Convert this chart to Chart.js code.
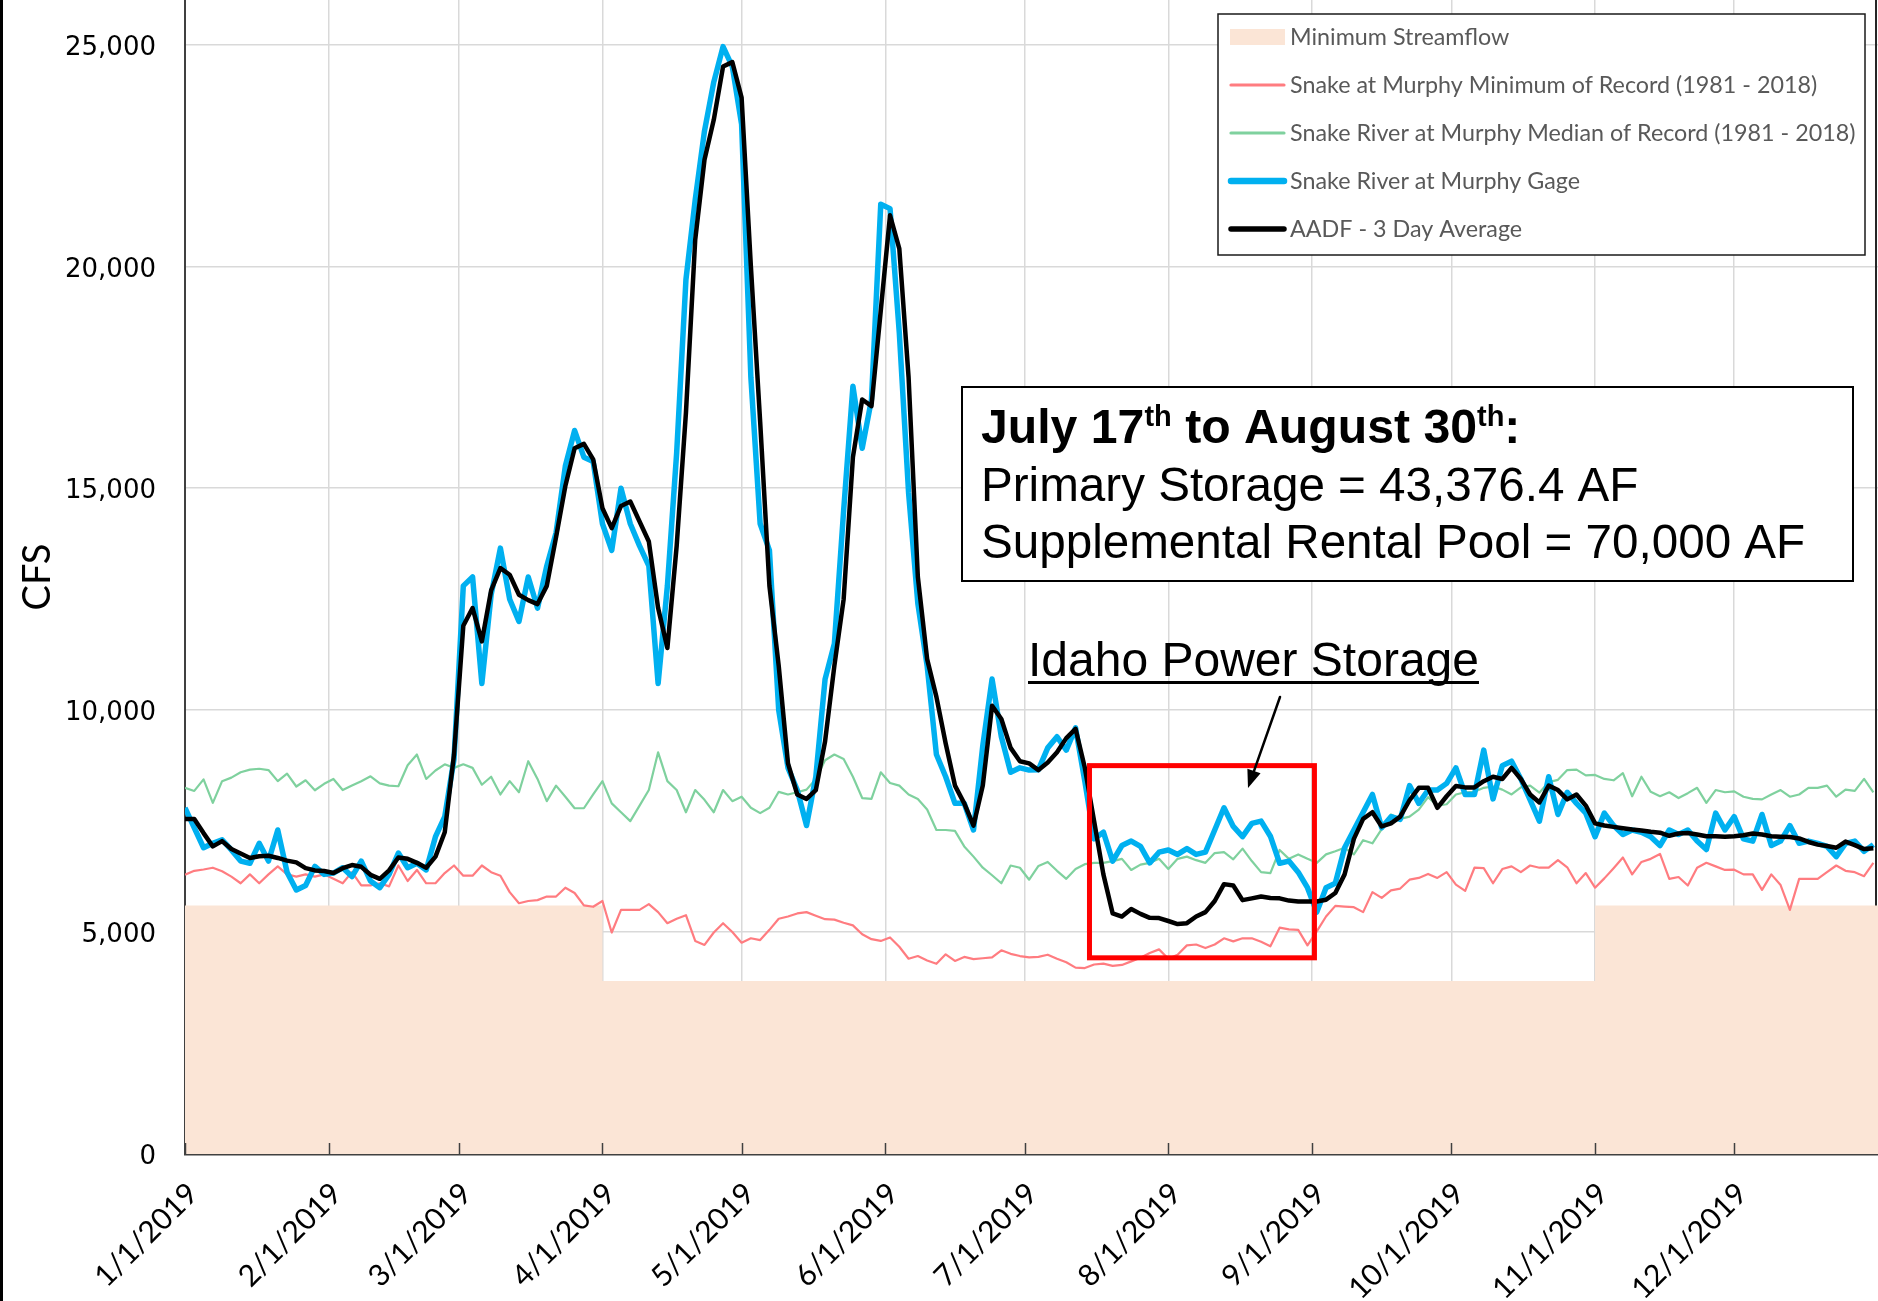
<!DOCTYPE html>
<html>
<head>
    <title>Snake River at Murphy - 2019</title>
    <script src="https://cdn.jsdelivr.net/npm/chart.js"></script>
    <style>
        body { margin: 0; background: #ffffff; }
    </style>
</head>
<body>
    <canvas id="flowChart" width="1878" height="1301"></canvas>

    <script>
        // x axis: days since 1/1/2019, daily series read every 2 days
        const STEP_DAYS = 2;
        const MONTH_START_DAYS = [0, 31, 59, 90, 120, 151, 181, 212, 243, 273, 304, 334];
        const MONTH_LABELS = ['1/1/2019', '2/1/2019', '3/1/2019', '4/1/2019', '5/1/2019', '6/1/2019',
            '7/1/2019', '8/1/2019', '9/1/2019', '10/1/2019', '11/1/2019', '12/1/2019'];
        const Y_TICKS = [0, 5000, 10000, 15000, 20000, 25000];

        // Minimum streamflow (step)
        const minStreamflowDays = [0, 90, 304, 365];
        const minStreamflowCfs = [5600, 3900, 5600, 5600];

        const minOfRecord = [
            6290, 6380, 6410, 6450, 6370, 6250, 6100, 6300, 6100, 6300,
            6480, 6300, 6250, 6300, 6250, 6300, 6200, 6100, 6350, 6050,
            6050, 6100, 6030, 6500, 6150, 6400, 6100, 6100, 6330, 6500,
            6270, 6270, 6500, 6350, 6270, 5900, 5650, 5700, 5720, 5800,
            5800, 6000, 5880, 5600, 5570, 5700, 4990, 5500, 5500, 5500,
            5630, 5450, 5200, 5300, 5380, 4800, 4710, 4990, 5200, 5000,
            4760, 4860, 4820, 5050, 5300, 5350, 5420, 5450, 5370, 5290,
            5280, 5210, 5150, 4950, 4840, 4800, 4880, 4670, 4400, 4460,
            4360, 4285, 4500, 4350, 4440, 4390, 4410, 4430, 4590, 4510,
            4460, 4430, 4440, 4490, 4400, 4320, 4200, 4190, 4270, 4290,
            4240, 4260, 4340, 4420, 4530, 4610, 4400, 4490, 4700, 4720,
            4640, 4720, 4860, 4790, 4860, 4860, 4780, 4680, 5100, 5060,
            5050, 4700, 5015, 5350, 5590, 5575, 5560, 5450, 5900, 5770,
            5940, 5980, 6180, 6220, 6310, 6220, 6350, 6070, 5930, 6450,
            6440, 6100, 6420, 6480, 6350, 6500, 6450, 6450, 6620, 6460,
            6100, 6330, 6000, 6210, 6440, 6680, 6300, 6580, 6650, 6760,
            6200, 6240, 6050, 6450, 6560, 6480, 6400, 6405, 6300, 6300,
            5950, 6300, 6060, 5500, 6200, 6200, 6200, 6350, 6500, 6380,
            6350, 6260, 6560
        ];

        const medianOfRecord = [
            8250, 8180, 8440, 7910, 8400, 8480, 8600, 8660, 8680, 8650,
            8400, 8570, 8280, 8420, 8195, 8340, 8450, 8200, 8300, 8400,
            8510, 8350, 8300, 8285, 8760, 9000, 8450, 8640, 8780, 8700,
            8780, 8700, 8320, 8500, 8100, 8400, 8150, 8850, 8450, 7950,
            8300, 8050, 7790, 7790, 8100, 8400, 7900, 7700, 7500, 7850,
            8200, 9050, 8400, 8200, 7700, 8200, 7980, 7700, 8200, 7950,
            8050, 7800, 7680, 7800, 8160, 8100, 8150, 8210, 8450, 8870,
            9000, 8900, 8500, 8020, 8000, 8600, 8360, 8300, 8100, 8000,
            7760, 7300, 7300, 7280, 6930, 6700, 6450, 6280, 6100, 6500,
            6450, 6180, 6490, 6580, 6380, 6200, 6420, 6530, 6560, 6560,
            6600, 6650, 6400, 6520, 6560, 6650, 6420, 6650, 6700, 6620,
            6560, 6780, 6800, 6640, 6880, 6600, 6350, 6330, 6850, 6650,
            6750, 6650, 6560, 6750, 6820, 6900, 6750, 7070, 7000, 7320,
            7650, 7550, 7600, 7760, 8040, 7850, 7880, 8100, 8150, 8160,
            8250, 8280, 8210, 8100, 8260, 8300, 8140, 8380, 8430, 8650,
            8660, 8530, 8540, 8450, 8420, 8580, 8060, 8500, 8160, 8060,
            8150, 8020, 8130, 8250, 7910, 8200, 8150, 8170, 8050, 8000,
            7990, 8100, 8200, 8050, 8100, 8250, 8250, 8300, 8050, 8210,
            8180, 8450, 8150
        ];

        const murphyGage = [
            7800, 7350, 6900, 7000, 7080, 6850, 6600, 6550, 7000, 6600,
            7300, 6350, 5950, 6050, 6480, 6300, 6330, 6450, 6250, 6600,
            6150, 6000, 6300, 6780, 6450, 6550, 6400, 7150, 7600, 8900,
            12800, 13000, 10600, 12600, 13650, 12500, 12000, 13000, 12300, 13250,
            14000, 15500, 16300, 15700, 15600, 14200, 13600, 15000, 14200, 13700,
            13250, 10600, 12800, 15800, 19700, 21500, 23050, 24150, 24950, 24500,
            23200, 17500, 14200, 13600, 10000, 8700, 8200, 7400, 8500, 10700,
            11500, 14500, 17300, 15900, 17000, 21400, 21300, 18500, 14900, 12400,
            11000, 9000, 8500, 7900, 7900, 7300, 9200, 10700, 9400, 8600,
            8700, 8650, 8660, 9150, 9400, 9100, 9600, 8400, 7100, 7250,
            6600, 6950, 7050, 6930, 6560, 6800, 6850, 6750, 6880, 6750,
            6800, 7300, 7800, 7380, 7150, 7450, 7500, 7160, 6550, 6600,
            6350, 6000, 5450, 6000, 6100, 6900, 7300, 7700, 8100, 7350,
            7600, 7540, 8300, 7900, 8200, 8200, 8350, 8700, 8100, 8100,
            9100, 8000, 8750, 8850, 8450, 7980, 7500, 8500, 7650, 8150,
            7900, 7680, 7150, 7680, 7400, 7200, 7300, 7250, 7150, 6950,
            7300, 7200, 7300, 7050, 6860, 7680, 7300, 7600, 7100, 7050,
            7650, 6950, 7050, 7400, 7000, 7050, 7000, 6930, 6700, 7000,
            7050, 6820, 6970
        ];

        const aadf3Day = [
            7550, 7550, 7230, 6930, 7050, 6870, 6770, 6670, 6710, 6720,
            6670, 6610, 6570, 6440, 6390, 6375, 6330, 6440, 6510, 6470,
            6290, 6200, 6390, 6680, 6650, 6560, 6450, 6700, 7250, 9000,
            11900, 12300, 11550, 12700, 13200, 13050, 12600, 12480, 12390, 12800,
            13900, 15050, 15900, 16000, 15650, 14550, 14100, 14600, 14700, 14250,
            13800, 12300, 11400, 13700, 16700, 20600, 22400, 23300, 24500, 24600,
            23800, 20000, 16500, 12800, 11000, 8800, 8100, 8000, 8200, 9300,
            11000, 12500, 15700, 17000, 16850, 19000, 21150, 20400, 17500, 13000,
            11150, 10300, 9250, 8300, 7900, 7400, 8300, 10100, 9800, 9150,
            8850, 8800, 8650, 8820, 9050, 9370, 9580, 8700, 7500, 6300,
            5420, 5350, 5520, 5410, 5320, 5315, 5250, 5180, 5200, 5350,
            5450, 5700, 6080, 6050, 5720, 5760, 5800, 5766, 5760, 5710,
            5690, 5690, 5690, 5730, 5880, 6300, 7100, 7550, 7700, 7380,
            7450, 7600, 7970, 8250, 8250, 7800, 8060, 8290, 8260, 8260,
            8400, 8500, 8450, 8700, 8450, 8100, 7920, 8300, 8200, 7990,
            8100, 7850, 7450, 7400, 7370, 7340, 7310, 7290, 7260, 7240,
            7170, 7220, 7230, 7200, 7160, 7160, 7150, 7160, 7180, 7220,
            7200, 7160, 7150, 7140, 7110, 7030, 6970, 6940, 6900, 7040,
            6960, 6870, 6890
        ];

        // storage period box (days since 1/1, CFS)
        const STORAGE_BOX = { startDay: 195, endDay: 243.5, low: 4420, high: 8750 };

        const seriesPoints = vals => vals.map((v, i) => ({ x: i * STEP_DAYS, y: v }));

        const overlayPlugin = {
            id: 'overlay',
            beforeDatasetsDraw(chart) {
                const ctx = chart.ctx;
                const y = chart.scales.y;
                // right frame line (hidden under the fill)
                ctx.save();
                ctx.strokeStyle = '#262626';
                ctx.lineWidth = 2;
                ctx.beginPath();
                ctx.moveTo(1876, 0);
                ctx.lineTo(1876, y.getPixelForValue(5000));
                ctx.stroke();
                ctx.restore();
            },
            afterDatasetsDraw(chart) {
                const ctx = chart.ctx;
                const x = chart.scales.x;
                const y = chart.scales.y;
                const area = chart.chartArea;
                ctx.save();

                // inside tick marks on the date axis
                ctx.strokeStyle = '#404040';
                ctx.lineWidth = 1.5;
                x.ticks.forEach(t => {
                    const px = Math.round(x.getPixelForValue(t.value)) + 0.5;
                    ctx.beginPath();
                    ctx.moveTo(px, area.bottom);
                    ctx.lineTo(px, area.bottom - 11);
                    ctx.stroke();
                });

                // red storage box
                const bx1 = x.getPixelForValue(STORAGE_BOX.startDay);
                const bx2 = x.getPixelForValue(STORAGE_BOX.endDay);
                const by1 = y.getPixelForValue(STORAGE_BOX.high);
                const by2 = y.getPixelForValue(STORAGE_BOX.low);
                ctx.strokeStyle = '#ff0000';
                ctx.lineWidth = 5;
                ctx.strokeRect(bx1, by1, bx2 - bx1, by2 - by1);
                ctx.restore();
            },
            afterDraw(chart) {
                const ctx = chart.ctx;
                ctx.save();

                // legend
                const lg = { x: 1218, y: 14, w: 647, h: 241 };
                ctx.fillStyle = '#ffffff';
                ctx.fillRect(lg.x, lg.y, lg.w, lg.h);
                ctx.strokeStyle = '#1a1a1a';
                ctx.lineWidth = 1.5;
                ctx.strokeRect(lg.x, lg.y, lg.w, lg.h);
                ctx.font = '23.3px Lato';
                ctx.textBaseline = 'middle';
                chart.data.datasets.forEach((ds, i) => {
                    const cy = 37 + i * 48;
                    if (ds.fill) {
                        ctx.fillStyle = ds.backgroundColor;
                        ctx.fillRect(1230, cy - 8, 55, 16);
                    } else {
                        ctx.strokeStyle = ds.borderColor;
                        ctx.lineWidth = ds.borderWidth + 1;
                        ctx.lineCap = 'round';
                        ctx.beginPath();
                        ctx.moveTo(1231, cy);
                        ctx.lineTo(1284, cy);
                        ctx.stroke();
                    }
                    ctx.fillStyle = '#595959';
                    ctx.fillText(ds.label, 1290, cy);
                });

                // summary text box
                const tb = { x: 962, y: 387, w: 891, h: 194 };
                ctx.fillStyle = '#ffffff';
                ctx.fillRect(tb.x, tb.y, tb.w, tb.h);
                ctx.strokeStyle = '#000000';
                ctx.lineWidth = 2;
                ctx.strokeRect(tb.x, tb.y, tb.w, tb.h);
                ctx.fillStyle = '#000000';
                ctx.textBaseline = 'alphabetic';
                const bold = 'bold 48.2px "Liberation Sans", Arial';
                const sup = 'bold 29px "Liberation Sans", Arial';
                const runs = [
                    { t: 'July 17', f: bold, r: 0 },
                    { t: 'th', f: sup, r: 17 },
                    { t: ' to August 30', f: bold, r: 0 },
                    { t: 'th', f: sup, r: 17 },
                    { t: ':', f: bold, r: 0 }
                ];
                let tx = 981;
                runs.forEach(run => {
                    ctx.font = run.f;
                    ctx.fillText(run.t, tx, 443 - run.r);
                    tx += ctx.measureText(run.t).width;
                });
                ctx.font = '47.6px "Liberation Sans", Arial';
                ctx.fillText('Primary Storage = 43,376.4 AF', 981, 501);
                ctx.fillText('Supplemental Rental Pool = 70,000 AF', 981, 558);

                // Idaho Power Storage label with underline
                const label = 'Idaho Power Storage';
                ctx.font = '48px "Liberation Sans", Arial';
                ctx.fillText(label, 1028, 676);
                const lw = ctx.measureText(label).width;
                ctx.fillRect(1028, 681, lw, 3);

                // arrow to the box
                const ax1 = 1280, ay1 = 697, ax2 = 1248, ay2 = 788;
                const ang = Math.atan2(ay2 - ay1, ax2 - ax1);
                ctx.strokeStyle = '#000000';
                ctx.lineWidth = 2.5;
                ctx.beginPath();
                ctx.moveTo(ax1, ay1);
                ctx.lineTo(ax2 - 14 * Math.cos(ang), ay2 - 14 * Math.sin(ang));
                ctx.stroke();
                ctx.beginPath();
                ctx.moveTo(ax2, ay2);
                ctx.lineTo(ax2 - 18 * Math.cos(ang) + 7 * Math.sin(ang), ay2 - 18 * Math.sin(ang) - 7 * Math.cos(ang));
                ctx.lineTo(ax2 - 18 * Math.cos(ang) - 7 * Math.sin(ang), ay2 - 18 * Math.sin(ang) + 7 * Math.cos(ang));
                ctx.closePath();
                ctx.fill();

                // left frame line of the picture
                ctx.fillStyle = '#000000';
                ctx.fillRect(0, 0, 3, chart.height);
                ctx.restore();
            }
        };

        const ctx = document.getElementById('flowChart').getContext('2d');

        const chart = new Chart(ctx, {
            type: 'line',
            data: {
                datasets: [
                    {
                        label: 'Minimum Streamflow',
                        data: minStreamflowDays.map((d, i) => ({ x: d, y: minStreamflowCfs[i] })),
                        stepped: 'before',
                        fill: 'origin',
                        backgroundColor: '#fbe5d6',
                        borderColor: '#fbe5d6',
                        borderWidth: 0,
                        pointRadius: 0,
                        order: 4
                    },
                    {
                        label: 'Snake at Murphy Minimum of Record (1981 - 2018)',
                        data: seriesPoints(minOfRecord),
                        borderColor: '#ff7c80',
                        borderWidth: 2.2,
                        pointRadius: 0,
                        fill: false,
                        order: 3
                    },
                    {
                        label: 'Snake River at Murphy Median of Record (1981 - 2018)',
                        data: seriesPoints(medianOfRecord),
                        borderColor: '#7fd19e',
                        borderWidth: 2.2,
                        pointRadius: 0,
                        fill: false,
                        order: 2
                    },
                    {
                        label: 'Snake River at Murphy Gage',
                        data: seriesPoints(murphyGage),
                        borderColor: '#00b0f0',
                        borderWidth: 5.5,
                        pointRadius: 0,
                        fill: false,
                        order: 1
                    },
                    {
                        label: 'AADF - 3 Day Average',
                        data: seriesPoints(aadf3Day),
                        borderColor: '#000000',
                        borderWidth: 4.5,
                        pointRadius: 0,
                        fill: false,
                        order: 0
                    }
                ]
            },
            options: {
                responsive: false,
                animation: false,
                devicePixelRatio: 1,
                layout: { padding: 0 },
                elements: { line: { tension: 0, borderJoinStyle: 'round' } },
                plugins: {
                    legend: { display: false },
                    tooltip: { enabled: false }
                },
                scales: {
                    x: {
                        type: 'linear',
                        min: 0,
                        max: 365,
                        afterBuildTicks: scale => {
                            scale.ticks = MONTH_START_DAYS.map(d => ({ value: d }));
                        },
                        afterFit: scale => {
                            scale.height = 147;
                            scale.paddingLeft = 0;
                            scale.paddingRight = 0;
                        },
                        ticks: {
                            autoSkip: false,
                            minRotation: 45,
                            maxRotation: 45,
                            padding: 22,
                            labelOffset: 8,
                            color: '#000000',
                            font: { family: 'Lato', size: 30 },
                            callback: value => {
                                const i = MONTH_START_DAYS.indexOf(value);
                                return i >= 0 ? MONTH_LABELS[i] : '';
                            }
                        },
                        grid: { color: '#d9d9d9', lineWidth: 1.5, drawTicks: false },
                        border: { display: true, color: '#404040', width: 2.5 }
                    },
                    y: {
                        min: 0,
                        max: 26000,
                        afterBuildTicks: scale => {
                            scale.ticks = Y_TICKS.map(v => ({ value: v }));
                        },
                        afterFit: scale => {
                            scale.width = 185;
                            scale.paddingTop = 0;
                            scale.paddingBottom = 0;
                        },
                        ticks: {
                            padding: 29,
                            labelOffset: 3.5,
                            color: '#000000',
                            font: { family: 'DejaVu Sans', size: 26 },
                            callback: value => value.toLocaleString('en-US')
                        },
                        title: {
                            display: true,
                            text: 'CFS',
                            color: '#000000',
                            font: { family: 'Lato', size: 38 },
                            padding: { top: 15, bottom: 0 }
                        },
                        grid: { color: '#d9d9d9', lineWidth: 1.5, drawTicks: false },
                        border: { display: true, color: '#404040', width: 2 }
                    }
                }
            },
            plugins: [overlayPlugin]
        });
    </script>
</body>
</html>
